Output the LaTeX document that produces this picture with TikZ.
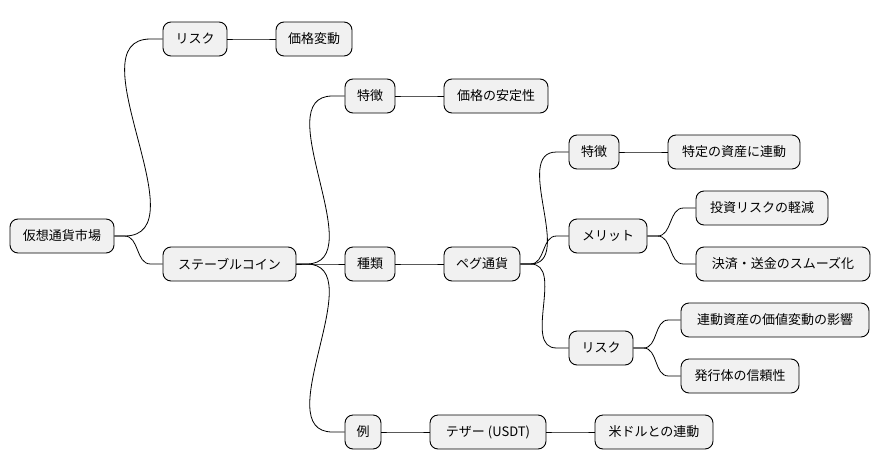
\documentclass[tikz,border=0pt]{standalone}
\usepackage{fontspec}
\usetikzlibrary{calc}
\setmainfont{Noto Sans CJK JP}
\begin{document}
\begin{tikzpicture}[x=1pt,y=-1pt,
  n/.style={draw=black,line width=0.9pt,fill={rgb,255:red,241;green,241;blue,241},rounded corners=8pt,minimum height=34pt,inner sep=0pt,font=\fontsize{13}{15}\selectfont},
  e/.style={line width=0.8pt,black}]
\useasboundingbox (0,0) rectangle (880,471);
\fill[white] (0,0) rectangle (880,471);
\def\N#1#2#3#4#5{\node[n,minimum width=#4pt] (#1) at (#2,#3) {#5};}
\N{a}{62}{236}{104}{仮想通貨市場}
\N{r1}{195}{39}{64}{リスク}
\N{r1a}{314}{39}{76}{価格変動}
\N{s}{229.5}{264}{133}{ステーブルコイン}
\N{t1}{370}{96}{50}{特徴}
\N{t1a}{496}{96}{104}{価格の安定性}
\N{k}{370}{264}{50}{種類}
\N{p}{482}{264}{76}{ペグ通貨}
\N{t2}{594}{152}{50}{特徴}
\N{t2a}{734}{152}{132}{特定の資産に連動}
\N{m}{608}{236}{78}{メリット}
\N{m1}{762}{208}{132}{投資リスクの軽減}
\N{m2}{783}{264}{174}{決済・送金のスムーズ化}
\N{r2}{601}{348}{64}{リスク}
\N{r2a}{775}{320}{188}{連動資産の価値変動の影響}
\N{r2b}{740}{376}{118}{発行体の信頼性}
\N{ex}{363}{432}{36}{例}
\N{u}{488}{432}{116}{テザー (USDT)}
\N{u1}{654}{432}{118}{米ドルとの連動}
\foreach \p/\c in {a/r1,r1/r1a,a/s,s/t1,t1/t1a,s/k,k/p,s/ex,ex/u,u/u1,p/t2,t2/t2a,p/m,m/m1,m/m2,p/r2,r2/r2a,r2/r2b}
  \draw[e] (\p.east) -- ++(10,0) to[out=0,in=180] ($(\c.west)+(-12,0)$) -- (\c.west);
\end{tikzpicture}
\end{document}
